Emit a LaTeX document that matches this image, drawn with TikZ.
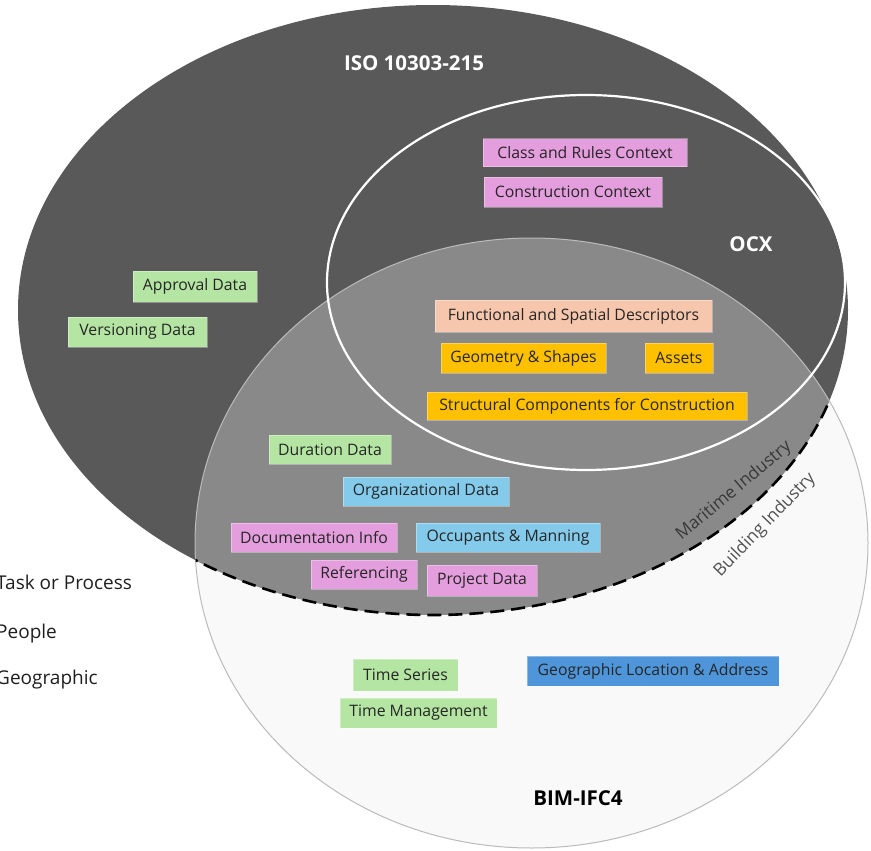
\documentclass[tikz,border=0pt]{standalone}
\usepackage{fontspec}
\setmainfont{Open Sans}
\usetikzlibrary{positioning}

\definecolor{isogrey}{HTML}{595959}
\definecolor{overlapgrey}{HTML}{898989}
\definecolor{bimfill}{HTML}{F9F9F9}
\definecolor{bimedge}{HTML}{BBBBBB}
\definecolor{pinkc}{HTML}{E49EDD}
\definecolor{greenc}{HTML}{B4E5A2}
\definecolor{lbluec}{HTML}{83CAEB}
\definecolor{bluec}{HTML}{4E95D9}
\definecolor{goldc}{HTML}{FFC000}
\definecolor{peachc}{HTML}{F6C6AD}
\definecolor{boxtext}{HTML}{262626}

\tikzset{
  tag/.style={rectangle, inner sep=0pt, minimum height=29pt, text=boxtext,
    font=\fontsize{15.8}{17}\selectfont, draw=white, draw opacity=0.35, line width=0.6pt},
  pinktag/.style={tag, fill=pinkc},
  greentag/.style={tag, fill=greenc},
  lbluetag/.style={tag, fill=lbluec},
  bluetag/.style={tag, fill=bluec},
  goldtag/.style={tag, fill=goldc},
  peachtag/.style={tag, fill=peachc},
  setname/.style={font=\bfseries\fontsize{20.5}{22}\selectfont, inner sep=0pt},
  industry/.style={font=\fontsize{17.3}{19}\selectfont, inner sep=0pt},
  legend/.style={font=\fontsize{19}{21}\selectfont, text=black!88, anchor=west, inner sep=0pt},
}

\begin{document}
\begin{tikzpicture}[x=1pt, y=-1pt]
\useasboundingbox (0,0) rectangle (871,851);

% the three sets
\def\isoset{(433,310) ellipse [x radius=415pt, y radius=305pt]}
\def\bimset{(531.5,543) ellipse [x radius=336.5pt, y radius=305pt]}

\fill[bimfill] \bimset;
\fill[isogrey] \isoset;
\begin{scope}
  \clip \isoset;
  \fill[overlapgrey] \bimset;
\end{scope}
\draw[bimedge, line width=1pt] \bimset;
% industry boundary: the ISO edge inside BIM
\begin{scope}
  \clip \bimset;
  \draw[black, line width=2.6pt, dash pattern=on 14pt off 7pt] \isoset;
\end{scope}
\draw[white, line width=2.2pt] (586,282.5) ellipse [x radius=259pt, y radius=187.5pt];

% set names
\node[setname, text=white] (iso) at (414,63) {ISO 10303-215};
\node[setname, text=white] (ocx) at (751,244) {OCX};
\node[setname, text=black] (bim) at (578,798) {BIM-IFC4};

\node[industry, text=black!78, rotate=40] (maritime) at (734,491) {Maritime Industry};
\node[industry, text=black!68, rotate=46] (building) at (765,525) {Building Industry};

% ISO 10303-215 only
\node[greentag, minimum width=124pt, minimum height=31pt] (approval) at (195,286.5) {Approval Data};
\node[greentag, minimum width=139pt, minimum height=30pt] (versioning) at (137.5,332) {Versioning Data};

% OCX
\node[pinktag, minimum width=204pt, minimum height=28pt] (classrules) at (585,152.5) {Class and Rules Context};
\node[pinktag, minimum width=178pt, minimum height=30pt] (construction) at (573,192) {Construction Context};

% OCX and BIM
\node[peachtag, minimum width=277pt, minimum height=32pt] (functional) at (573.5,316) {Functional and Spatial Descriptors};
\node[goldtag, minimum width=165pt, minimum height=30pt] (geometry) at (523.5,358) {Geometry \& Shapes};
\node[goldtag, minimum width=68pt, minimum height=30pt] (assets) at (679,358) {Assets};
\node[goldtag, minimum width=320pt, minimum height=28pt] (structural) at (587,406) {Structural Components for Construction};

% ISO and BIM
\node[greentag, minimum width=122pt] (duration) at (330,449.5) {Duration Data};
\node[lbluetag, minimum width=166pt] (organizational) at (426,491.5) {Organizational Data};
\node[pinktag, minimum width=166pt] (documentation) at (314,537.5) {Documentation Info};
\node[lbluetag, minimum width=184pt] (occupants) at (508,537.5) {Occupants \& Manning};
\node[pinktag, minimum width=106pt] (referencing) at (364,574.5) {Referencing};
\node[pinktag, minimum width=110pt, minimum height=31pt] (project) at (482,580.5) {Project Data};

% BIM-IFC4 only
\node[greentag, minimum width=105pt, minimum height=32pt] (timeseries) at (405.5,675) {Time Series};
\node[greentag, minimum width=157pt, minimum height=30pt] (timemgmt) at (418.5,713) {Time Management};
\node[bluetag, minimum width=252pt, minimum height=30pt] (geoloc) at (653,671) {Geographic Location \& Address};

% legend
\node[legend] (task) at (-4,582) {Task or Process};
\node[legend] (people) at (-4,634) {People};
\node[legend] (geo) at (-4,680) {Geographic};
\end{tikzpicture}
\end{document}
